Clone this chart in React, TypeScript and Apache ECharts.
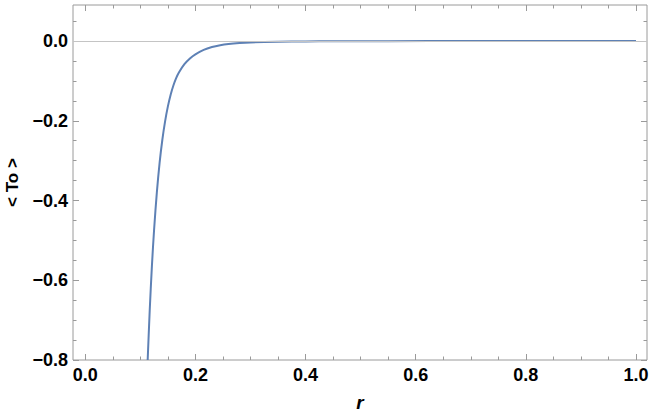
import React, { useEffect, useRef } from "react";
import * as echarts from "echarts";

const rValues = [0.1133, 0.117, 0.121, 0.125, 0.13, 0.135, 0.14, 0.145, 0.15, 0.155, 0.16, 0.165, 0.17, 0.18, 0.19, 0.2, 0.215, 0.23, 0.245, 0.26, 0.28, 0.3, 0.35, 0.4, 0.45, 0.55, 0.7, 0.85, 1.0];
const toValues = [-0.8, -0.676, -0.564, -0.472, -0.379, -0.305, -0.247, -0.201, -0.164, -0.1346, -0.1115, -0.0932, -0.079, -0.0582, -0.0438, -0.0333, -0.0223, -0.0152, -0.0106, -0.0076, -0.00515, -0.00365, -0.0018, -0.00105, -0.00067, -0.00033, -0.0001, -0.00004, -0.00002];

const xMajorTicks = [0, 0.2, 0.4, 0.6, 0.8, 1.0];
const xMinorTicks = [0.05, 0.1, 0.15, 0.25, 0.3, 0.35, 0.45, 0.5, 0.55, 0.65, 0.7, 0.75, 0.85, 0.9, 0.95];
const yMajorTicks = [-0.8, -0.6, -0.4, -0.2, 0.0];
const yMinorTicks = [-0.75, -0.7, -0.65, -0.55, -0.5, -0.45, -0.35, -0.3, -0.25, -0.15, -0.1, -0.05, 0.05];

const X_MIN = -0.0223;
const X_MAX = 1.02;
const Y_MIN = -0.8;
const Y_MAX = 0.0903;

const FRAME = "#9a9a9a";
const FONT = "'Liberation Sans', Arial, sans-serif";

const fmt = (v: number) => {
  const s = Math.abs(v).toFixed(1);
  return v < -1e-9 ? "\u2212" + s : s;
};

export default function App() {
  const ref = useRef<HTMLDivElement>(null);
  useEffect(() => {
    if (!ref.current) return;
    const chart = echarts.init(ref.current, null, { renderer: "svg" });
    const tickStyle = { color: FRAME, width: 1 };
    const mkX = (pos: string, vals: number[], len: number, labels: boolean, name?: string) => ({
      type: "value",
      position: pos,
      min: X_MIN,
      max: X_MAX,
      name: name,
      nameLocation: "middle",
      nameGap: 33,
      nameTextStyle: { fontFamily: FONT, fontSize: 19, fontWeight: "bold", fontStyle: "italic", color: "#000" },
      axisLine: { show: false, onZero: false },
      splitLine: { show: false },
      axisTick: { show: true, inside: true, length: len, lineStyle: tickStyle, customValues: vals },
      axisLabel: labels
        ? { show: true, customValues: vals, formatter: fmt, margin: 6, fontFamily: FONT, fontSize: 18, fontWeight: "bold", color: "#000", hideOverlap: false }
        : { show: false },
    });
    const mkY = (pos: string, vals: number[], len: number, labels: boolean, name?: string) => ({
      type: "value",
      position: pos,
      min: Y_MIN,
      max: Y_MAX,
      name: name,
      nameLocation: "middle",
      nameGap: 52,
      nameRotate: 90,
      nameTextStyle: { fontFamily: FONT, fontSize: 17, fontWeight: "bold", color: "#000" },
      axisLine: { show: false, onZero: false },
      splitLine: { show: false },
      axisTick: { show: true, inside: true, length: len, lineStyle: tickStyle, customValues: vals },
      axisLabel: labels
        ? { show: true, customValues: vals, formatter: fmt, margin: 5, fontFamily: FONT, fontSize: 18, fontWeight: "bold", color: "#000" }
        : { show: false },
    });
    const data = rValues.map((r, i) => [r, toValues[i]]);
    chart.setOption({
      animation: false,
      grid: {
        left: 73,
        top: 5,
        right: 7,
        bottom: 58,
        containLabel: false,
        outerBoundsMode: "none",
        show: true,
        borderColor: FRAME,
        borderWidth: 1,
        backgroundColor: "transparent",
      },
      xAxis: [
        mkX("bottom", xMajorTicks, 6, true, "r"),
        mkX("bottom", xMinorTicks, 3.5, false),
        mkX("top", xMajorTicks, 6, false),
        mkX("top", xMinorTicks, 3.5, false),
      ],
      yAxis: [
        mkY("left", yMajorTicks, 6, true, "< To >"),
        mkY("left", yMinorTicks, 3.5, false),
        mkY("right", yMajorTicks, 6, false),
        mkY("right", yMinorTicks, 3.5, false),
      ],
      series: [
        {
          type: "line",
          xAxisIndex: 0,
          yAxisIndex: 0,
          data,
          smooth: 0.3,
          showSymbol: false,
          clip: true,
          lineStyle: { color: "#5E81B5", width: 2 },
          markLine: {
            silent: true,
            symbol: "none",
            label: { show: false },
            lineStyle: { color: "#c4c4c4", width: 1, type: "solid" },
            data: [{ yAxis: 0 }],
          },
          z: 3,
        },
      ],
    });
    return () => chart.dispose();
  }, []);
  return <div ref={ref} style={{ width: 654, height: 418, position: "absolute", left: 0, top: 0 }} />;
}
